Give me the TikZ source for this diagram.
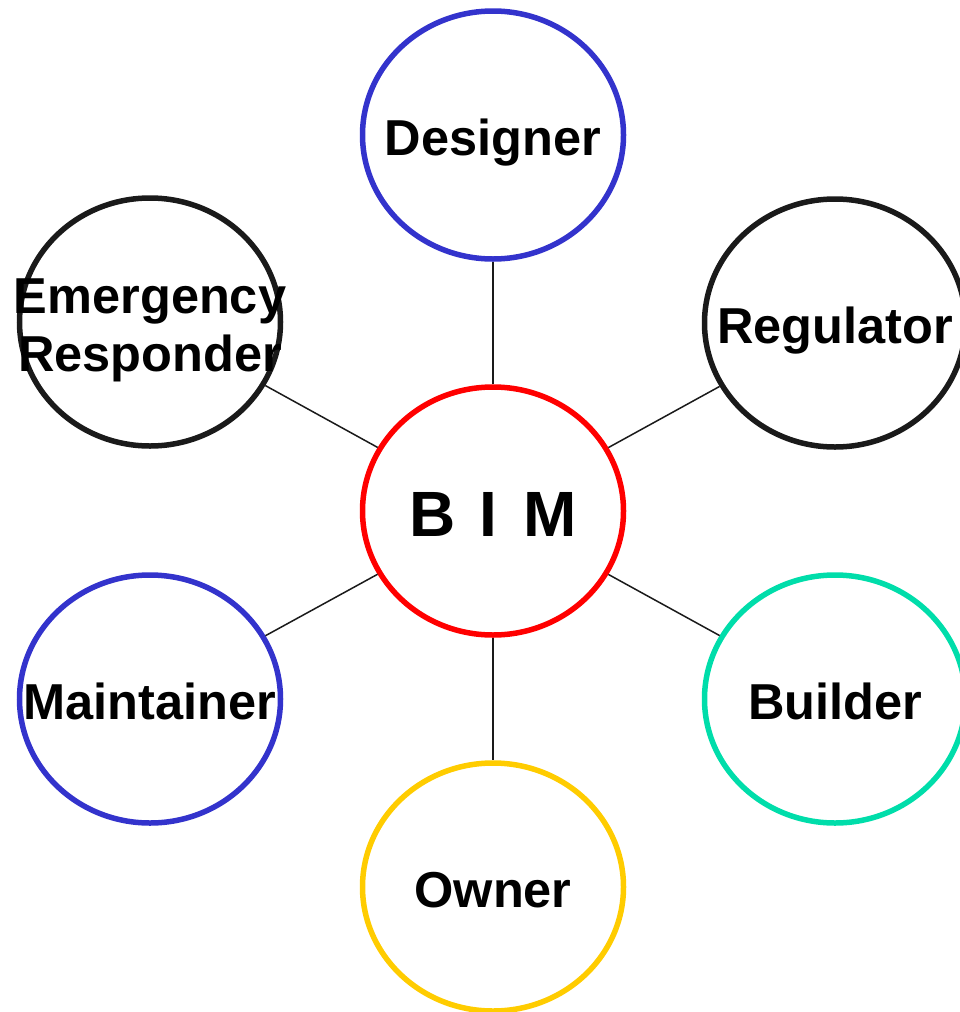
\documentclass[tikz,border=0pt]{standalone}
\usepackage{fontspec}
\setmainfont{Liberation Sans}
\usetikzlibrary{shapes.geometric}
\definecolor{bimred}{RGB}{255,0,0}
\definecolor{roleblue}{RGB}{51,51,204}
\definecolor{roleteal}{RGB}{0,221,170}
\definecolor{rolegold}{RGB}{255,204,0}
\definecolor{roledark}{RGB}{26,26,26}
\tikzset{
  role/.style={ellipse,draw,line width=5.5pt,minimum width=261pt,minimum height=248pt,inner sep=0pt},
  rolename/.style={font=\fontsize{50.5}{58}\selectfont\bfseries,align=center,inner sep=0pt,text height=36pt,text depth=0pt,yshift=-2pt},
  link/.style={draw=roledark,line width=1.5pt}
}
\begin{document}
\begin{tikzpicture}[x=1pt,y=-1pt]
\useasboundingbox (0,0) rectangle (959,1012);
% circles
\node [role,draw=bimred] (bim) at (493,511) {};
\node [role,draw=roleblue] (des) at (493,135) {};
\node [role,draw=roledark] (reg) at (835,323) {};
\node [role,draw=roledark] (emr) at (150,322) {};
\node [role,draw=roleblue] (mnt) at (150,699) {};
\node [role,draw=roleteal] (bld) at (835,699) {};
\node [role,draw=rolegold] (own) at (493,887) {};
% names
\node [rolename,font=\fontsize{64}{70}\selectfont\bfseries,text height=46pt] (bim-t) at (bim) {B\hspace{24pt}I\hspace{26pt}M};
\node [rolename] (des-t) at (des) {Designer};
\node [rolename] (reg-t) at (reg) {Regulator};
\node [rolename,text height=94pt] (emr-t) at (emr) {Emergency\\Responder};
\node [rolename] (mnt-t) at (mnt) {Maintainer};
\node [rolename] (bld-t) at (bld) {Builder};
\node [rolename] (own-t) at (own) {Owner};
% links
\foreach \r in {des,reg,emr,mnt,bld,own}
  \draw [link] (bim) -- (\r);
\end{tikzpicture}
\end{document}
